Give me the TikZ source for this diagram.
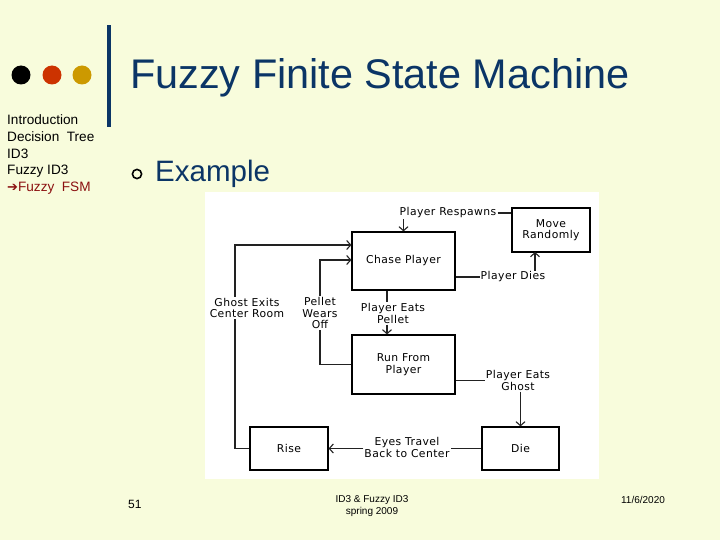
\documentclass[tikz,border=0pt]{standalone}
\usepackage{fontspec}
\setmainfont{Liberation Sans}
\newfontfamily\diag[LetterSpace=4]{DejaVu Sans}
\newfontfamily\symf{DejaVu Sans}
\usetikzlibrary{arrows.meta,calc}
\definecolor{slidebg}{HTML}{F8FCDC}
\definecolor{navy}{HTML}{0B3566}
\definecolor{dotred}{HTML}{CC3300}
\definecolor{dotgold}{HTML}{CC9900}
\definecolor{menured}{HTML}{8B1010}
\definecolor{lineg}{HTML}{222222}
\begin{document}
\begin{tikzpicture}[x=1pt,y=-1pt,
  statebox/.style={draw=black,line width=1.2pt,fill=white,inner sep=0pt,
    font=\diag\fontsize{10.8}{11.5}\selectfont,align=center},
  lbl/.style={inner sep=1pt,font=\diag\fontsize{10.8}{11.5}\selectfont,align=center},
  conn/.style={draw=lineg,line width=1.1pt},
  arr/.style={conn,-{Straight Barb[length=4pt,width=9pt]}},
  menu/.style={anchor=base west,inner sep=0pt,font=\fontsize{13.6}{15}\selectfont},
  foot/.style={inner sep=0pt,font=\fontsize{10}{12}\selectfont,align=center}]
\useasboundingbox (0,0) rectangle (720,540);
\fill[slidebg] (0,0) rectangle (720,540);
% decorations
\fill[black] (21,75) circle (9.5);
\fill[dotred] (52,75) circle (9.5);
\fill[dotgold] (82,75) circle (9.5);
\fill[navy] (107,25) rectangle (111,127);
\node[anchor=base west,inner sep=0pt,text=navy,font=\fontsize{41.4}{44}\selectfont] (title) at (130,89) {Fuzzy Finite State Machine};
% menu
\node[menu] (m1) at (7,125) {Introduction};
\node[menu] (m2) at (7,142) {Decision\ \ Tree};
\node[menu] (m3) at (7,158.5) {ID3};
\node[menu] (m4) at (7,175) {Fuzzy ID3};
\node[menu,text=menured] (m5) at (7,192) {{\symf\fontsize{13}{15}\selectfont ➔}Fuzzy\ \ FSM};
% bullet
\draw[black,line width=1.6pt] (137,174) circle (4.6);
\node[anchor=base west,inner sep=0pt,text=navy,font=\fontsize{29.5}{32}\selectfont] (ex) at (155,182) {Example};
% diagram background
\fill[white] (205,192) rectangle (599,479);
% states
\node[statebox,minimum width=78pt,minimum height=44pt] (move) at (551,230) {Move\\Randomly};
\node[statebox,minimum width=103pt,minimum height=58pt] (chase) at (403.5,261) {Chase Player};
\node[statebox,minimum width=103pt,minimum height=59pt] (run) at (403.5,364.5) {Run From\\Player};
\node[statebox,minimum width=77pt,minimum height=43pt] (die) at (520.5,448.5) {Die};
\node[statebox,minimum width=78pt,minimum height=43pt] (rise) at (289,448.5) {Rise};
% labels
\node[lbl] (respawn) at (448,213) {Player Respawns};
\node[lbl] (dies) at (513,277) {Player Dies};
\node[lbl] (gexit) at (247,308) {Ghost Exits\\Center Room};
\node[lbl] (wears) at (320,313) {Pellet\\Wears\\Off};
\node[lbl] (eatsp) at (393,313.5) {Player Eats\\Pellet};
\node[lbl] (eatsg) at (518,380.5) {Player Eats\\Ghost};
\node[lbl] (eyes) at (407,447.5) {Eyes Travel\\Back to Center};
% helper coordinates
\coordinate (mvA) at (535,252);
\coordinate (gxTop) at (235,245);
\coordinate (gxBot) at (235,448.5);
\coordinate (pwTop) at (320,260);
\coordinate (pwBot) at (320,364.5);
\coordinate (epX) at (387,0);
% connectors
\draw[conn] (respawn.east) -- (respawn.east -| move.west);
\draw[arr] (chase.north |- respawn.south) -- (chase.north);
\draw[conn] (chase.east |- dies) -- (dies.west);
\draw[arr] (dies.north -| mvA) -- (mvA);
\draw[conn] (chase.south -| epX) -- (eatsp.north -| epX);
\draw[arr] (eatsp.south -| epX) -- (run.north -| epX);
\draw[conn] (run.east |- eatsg) -- (eatsg.west);
\draw[arr] (eatsg.south -| die.north) -- (die.north);
\draw[conn] (die.west) -- (eyes.east |- die.west);
\draw[arr] (eyes.west |- rise.east) -- (rise.east);
\draw[conn] (rise.west) -- (gxBot) -- (gexit.south -| gxBot);
\draw[arr] (gexit.north -| gxTop) -- (gxTop) -- (chase.west |- gxTop);
\draw[conn] (run.west |- pwBot) -- (pwBot) -- (wears.south);
\draw[arr] (wears.north) -- (pwTop) -- (chase.west |- pwTop);
% footer
\node[foot,anchor=base west] (num) at (128,508) {\fontsize{12}{14}\selectfont 51};
\node[foot] (ft) at (372,506) {ID3 \& Fuzzy ID3\\spring 2009};
\node[foot] (date) at (643,500) {11/6/2020};
\end{tikzpicture}
\end{document}
